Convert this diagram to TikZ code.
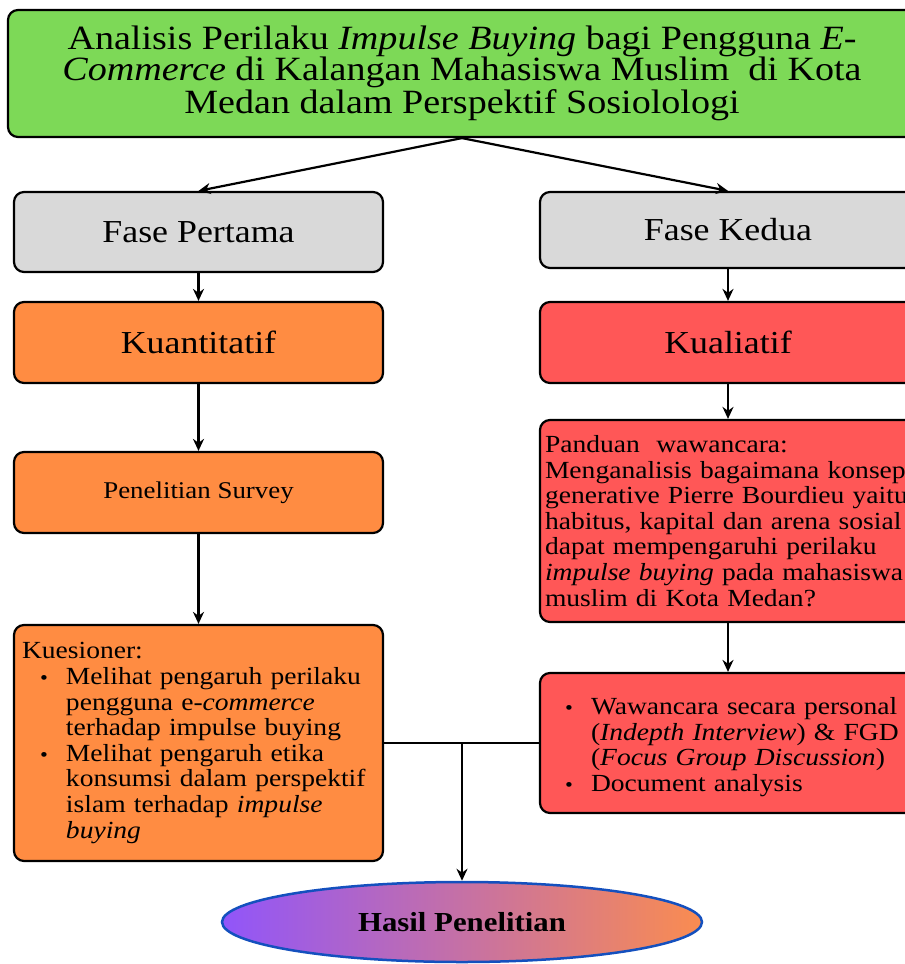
\documentclass[tikz,border=0pt]{standalone}
\usepackage{fontspec}
\setmainfont{Liberation Serif}[FakeStretch=1.12]
\usetikzlibrary{arrows.meta,shapes.geometric}
\definecolor{tgreen}{HTML}{7DD957}
\definecolor{tgray}{HTML}{D9D9D9}
\definecolor{torange}{HTML}{FF8C42}
\definecolor{tred}{HTML}{FF5757}
\definecolor{hleft}{HTML}{9155FA}
\definecolor{hright}{HTML}{FA8C50}
\definecolor{hblue}{HTML}{1450BE}
\newcommand{\mybul}{{\fontsize{20}{20}\selectfont\textbullet}}
\newenvironment{mylist}[1]{\begin{list}{\mybul}{\setlength\leftmargin{#1}\setlength\labelsep{18pt}\setlength\itemsep{0pt}\setlength\topsep{0pt}\setlength\parsep{0pt}\setlength\partopsep{0pt}}}{\end{list}}
\begin{document}
\begin{tikzpicture}[x=1pt,y=-1pt,
  box/.style={draw=black, line width=2.2pt, rounded corners=10pt, inner sep=0pt},
  arr/.style={line width=2.2pt, -{Stealth[length=12pt,width=11pt]}},
  big/.style={font=\fontsize{32}{36}\selectfont},
  body/.style={font=\fontsize{24.6}{25.6}\selectfont}]
\useasboundingbox (0,0) rectangle (905,964);
\node[box, fill=tgreen, minimum width=908pt, minimum height=127pt, align=center,
  font=\fontsize{34}{31}\selectfont] (title) at (462,73.5)
  {Analisis Perilaku \textit{Impulse Buying} bagi Pengguna \textit{E-}\\\textit{Commerce} di Kalangan Mahasiswa Muslim\ \ di Kota\\Medan dalam Perspektif Sosiolologi};
\node[box, fill=tgray, minimum width=369pt, minimum height=80pt, big] (f1) at (198.5,232) {Fase Pertama};
\node[box, fill=tgray, minimum width=376pt, minimum height=76pt, big] (f2) at (728,230) {Fase Kedua};
\node[box, fill=torange, minimum width=369pt, minimum height=81pt, big] (kuan) at (198.5,342.5) {Kuantitatif};
\node[box, fill=tred, minimum width=376pt, minimum height=81pt, big] (kual) at (728,342.5) {Kualiatif};
\node[box, fill=torange, minimum width=369pt, minimum height=81pt, font=\fontsize{24}{26}\selectfont] (survey) at (198.5,492.5) {Penelitian Survey};
\node[box, fill=tred, minimum width=376pt, minimum height=202pt, text width=366pt, inner xsep=5pt, align=left, body] (pand) at (728,521)
  {\mbox{Panduan\ \ wawancara:}\\\mbox{Menganalisis bagaimana konsep}\\\mbox{generative Pierre Bourdieu yaitu}\\\mbox{habitus, kapital dan arena sosial}\\\mbox{dapat mempengaruhi perilaku}\\\mbox{\textit{impulse buying} pada mahasiswa}\\\mbox{muslim di Kota Medan?}};
\node[box, fill=torange, minimum width=369pt, minimum height=236pt, text width=353pt, inner xsep=8pt, align=left, body] (kues) at (198.5,743)
  {Kuesioner:
   \begin{mylist}{44pt}
   \item Melihat pengaruh perilaku\\pengguna e-\textit{commerce}\\terhadap impulse buying
   \item Melihat pengaruh etika\\konsumsi dalam perspektif\\islam terhadap \textit{impulse}\\\textit{buying}
   \end{mylist}};
\node[box, fill=tred, minimum width=376pt, minimum height=140pt, text width=360pt, inner xsep=8pt, align=left, body] (waw) at (728,743)
  {\begin{mylist}{43pt}
   \item \mbox{Wawancara secara personal}\\(\textit{Indepth Interview}) \& FGD\\(\textit{Focus Group Discussion})
   \item Document analysis
   \end{mylist}};
\node[ellipse, draw=hblue, line width=2.5pt, left color=hleft, right color=hright, minimum width=480pt, minimum height=80pt, inner sep=0pt,
  font=\bfseries\fontsize{27.5}{30}\selectfont] (hasil) at (462,922) {Hasil Penelitian};
\draw[arr] (title.south) -- (f1.north);
\draw[arr] (title.south) -- (f2.north);
\draw[arr] (f1.south) -- (kuan.north);
\draw[arr] (f2.south) -- (kual.north);
\draw[arr] (kuan.south) -- (survey.north);
\draw[arr] (kual.south) -- (pand.north);
\draw[arr] (survey.south) -- (kues.north);
\draw[arr] (pand.south) -- (waw.north);
\draw[line width=2.2pt] (kues.east) -- (waw.west);
\coordinate (jn) at (462,743);
\draw[arr] (jn) -- (hasil.north);
\end{tikzpicture}
\end{document}
